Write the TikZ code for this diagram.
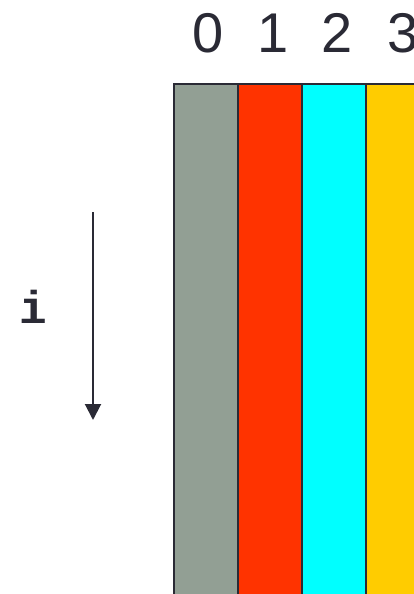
\documentclass[tikz,border=0pt]{standalone}
\usepackage{fontspec}
\setmainfont{Liberation Sans}
\setmonofont{Liberation Mono}
\usetikzlibrary{arrows.meta}
\definecolor{colgray}{HTML}{929F94}
\definecolor{colred}{HTML}{FF3300}
\definecolor{colcyan}{HTML}{00FFFF}
\definecolor{colyellow}{HTML}{FFCC00}
\definecolor{inkdark}{HTML}{2A2A35}
\tikzset{
  stripe/.style={draw=inkdark, line width=2pt},
  idx/.style={font=\fontsize{56}{56}\selectfont, text=inkdark, inner sep=0pt},
  dirarrow/.style={draw=inkdark, line width=2pt, -{Triangle[length=16pt,width=16pt]}}
}
\begin{document}
\begin{tikzpicture}[x=1pt,y=-1pt]
\useasboundingbox (0,0) rectangle (414,594);
\clip (0,0) rectangle (414,594);

\draw[stripe, fill=colgray] (174,84) rectangle (238,610);
\draw[stripe, fill=colred] (238,84) rectangle (302,610);
\draw[stripe, fill=colcyan] (302,84) rectangle (366,610);
\draw[stripe, fill=colyellow] (366,84) rectangle (430,610);

\node[idx] (lab0) at (208,33) {0};
\node[idx] (lab1) at (273,33) {1};
\node[idx] (lab2) at (337,33) {2};
\node[idx] (lab3) at (403,33) {3};

\coordinate (top) at (93,212);
\coordinate (bot) at (93,420);
\draw[dirarrow] (top) -- (bot);
\node[font=\ttfamily\bfseries\fontsize{46}{46}\selectfont, text=inkdark] (ivar) at (33,307) {i};
\end{tikzpicture}
\end{document}
